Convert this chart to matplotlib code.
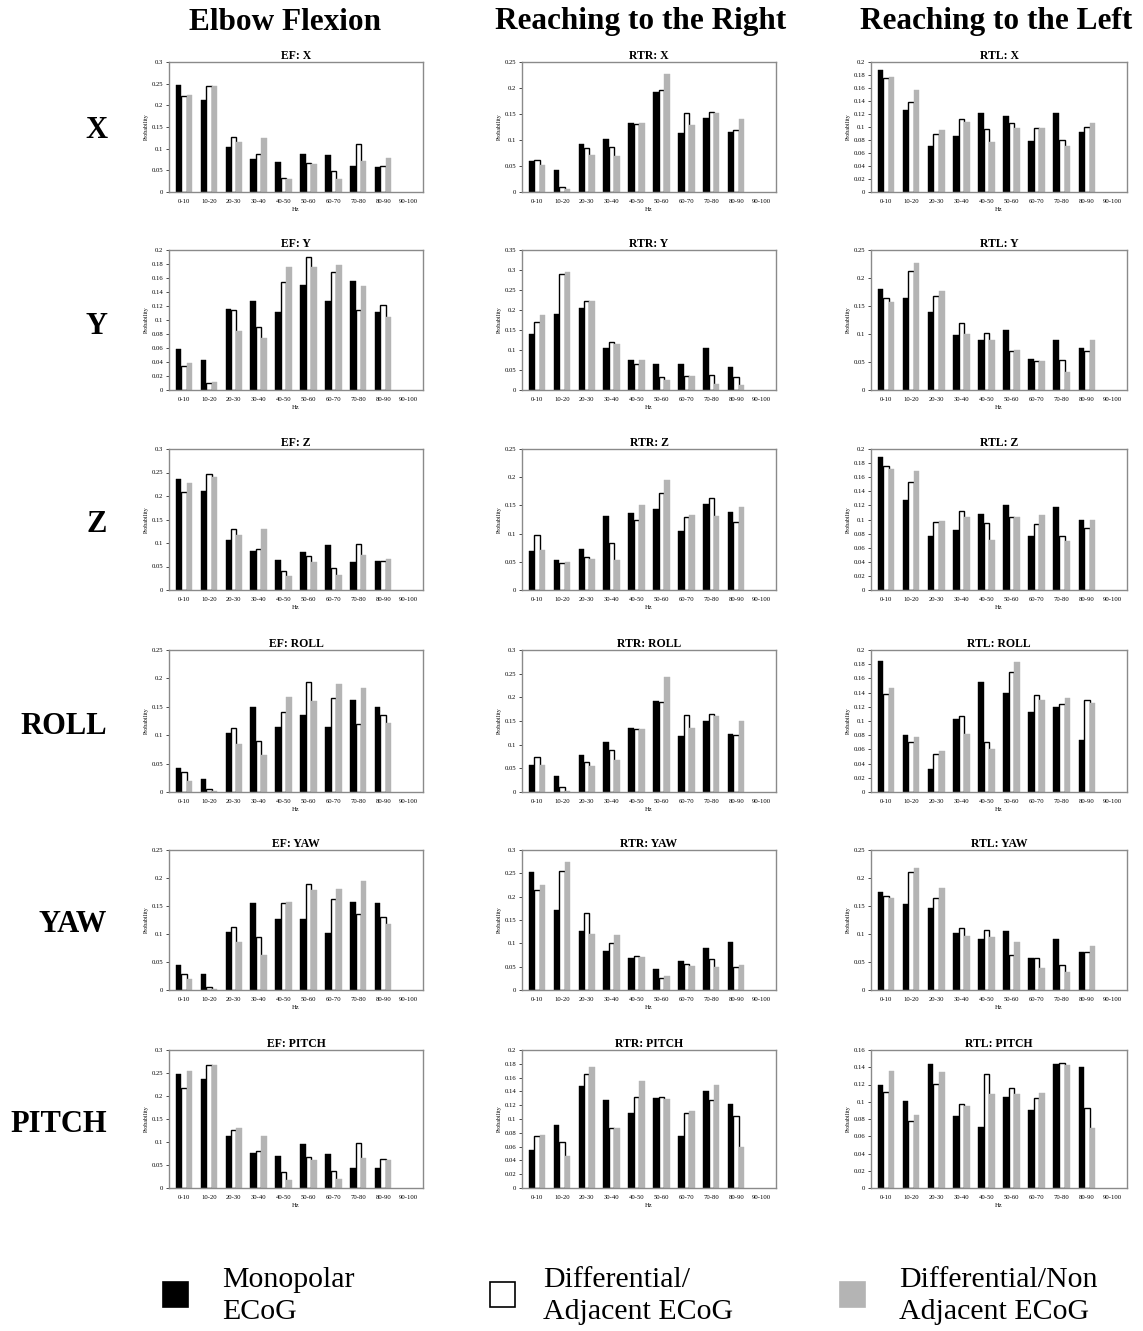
import numpy as np
import matplotlib.pyplot as plt
import matplotlib as mpl
from matplotlib.patches import Rectangle
from matplotlib.ticker import MultipleLocator, FormatStrFormatter

mpl.rcParams['font.family'] = ['Liberation Serif', 'DejaVu Serif']

W, H = 1143, 1331

bins = ['0-10', '10-20', '20-30', '30-40', '40-50', '50-60', '60-70', '70-80', '80-90', '90-100']

# each panel: (monopolar, differential adjacent, differential non adjacent); 90-100 is empty
ef_x = ([0.248, 0.212, 0.104, 0.077, 0.069, 0.088, 0.086, 0.060, 0.057, 0],
        [0.222, 0.245, 0.126, 0.087, 0.033, 0.066, 0.048, 0.110, 0.060, 0],
        [0.224, 0.245, 0.116, 0.125, 0.030, 0.064, 0.030, 0.072, 0.079, 0])
ef_y = ([0.058, 0.043, 0.116, 0.127, 0.111, 0.150, 0.127, 0.156, 0.112, 0],
        [0.035, 0.010, 0.115, 0.090, 0.154, 0.190, 0.168, 0.115, 0.121, 0],
        [0.038, 0.012, 0.085, 0.074, 0.176, 0.176, 0.178, 0.149, 0.105, 0])
ef_z = ([0.237, 0.210, 0.107, 0.084, 0.063, 0.080, 0.095, 0.060, 0.062, 0],
        [0.208, 0.247, 0.130, 0.087, 0.040, 0.072, 0.047, 0.098, 0.062, 0],
        [0.228, 0.240, 0.118, 0.130, 0.030, 0.060, 0.032, 0.075, 0.066, 0])
ef_roll = ([0.042, 0.023, 0.103, 0.150, 0.115, 0.135, 0.115, 0.162, 0.150, 0],
           [0.035, 0.005, 0.112, 0.090, 0.140, 0.193, 0.165, 0.120, 0.135, 0],
           [0.020, 0.002, 0.085, 0.066, 0.168, 0.160, 0.191, 0.183, 0.122, 0])
ef_yaw = ([0.045, 0.028, 0.103, 0.155, 0.127, 0.127, 0.101, 0.157, 0.155, 0],
          [0.028, 0.006, 0.112, 0.095, 0.155, 0.190, 0.163, 0.135, 0.130, 0],
          [0.020, 0.002, 0.085, 0.062, 0.157, 0.178, 0.181, 0.195, 0.117, 0])
ef_pitch = ([0.248, 0.238, 0.113, 0.077, 0.070, 0.095, 0.075, 0.043, 0.043, 0],
            [0.218, 0.268, 0.127, 0.080, 0.035, 0.068, 0.037, 0.097, 0.062, 0],
            [0.255, 0.268, 0.131, 0.113, 0.018, 0.060, 0.020, 0.065, 0.060, 0])

rtr_x = ([0.059, 0.042, 0.093, 0.101, 0.133, 0.193, 0.113, 0.143, 0.115, 0],
         [0.062, 0.010, 0.085, 0.086, 0.131, 0.196, 0.151, 0.154, 0.119, 0],
         [0.052, 0.005, 0.072, 0.070, 0.133, 0.226, 0.128, 0.152, 0.140, 0])
rtr_y = ([0.140, 0.190, 0.204, 0.104, 0.076, 0.066, 0.066, 0.104, 0.058, 0],
         [0.170, 0.290, 0.222, 0.120, 0.066, 0.032, 0.034, 0.038, 0.032, 0],
         [0.188, 0.296, 0.222, 0.116, 0.076, 0.024, 0.036, 0.016, 0.012, 0])
rtr_z = ([0.069, 0.053, 0.072, 0.132, 0.137, 0.143, 0.104, 0.152, 0.139, 0],
         [0.098, 0.048, 0.058, 0.084, 0.124, 0.172, 0.130, 0.164, 0.121, 0],
         [0.071, 0.050, 0.055, 0.053, 0.151, 0.195, 0.133, 0.132, 0.148, 0])
rtr_roll = ([0.058, 0.034, 0.078, 0.106, 0.136, 0.192, 0.118, 0.151, 0.122, 0],
            [0.073, 0.010, 0.063, 0.088, 0.134, 0.190, 0.163, 0.165, 0.121, 0],
            [0.056, 0.003, 0.054, 0.068, 0.133, 0.243, 0.135, 0.160, 0.150, 0])
rtr_yaw = ([0.253, 0.172, 0.127, 0.084, 0.069, 0.044, 0.063, 0.090, 0.103, 0],
           [0.214, 0.256, 0.164, 0.101, 0.072, 0.026, 0.056, 0.066, 0.050, 0],
           [0.226, 0.275, 0.120, 0.117, 0.070, 0.030, 0.052, 0.049, 0.054, 0])
rtr_pitch = ([0.055, 0.091, 0.148, 0.128, 0.109, 0.131, 0.075, 0.140, 0.122, 0],
             [0.075, 0.067, 0.165, 0.087, 0.132, 0.132, 0.109, 0.127, 0.104, 0],
             [0.077, 0.047, 0.175, 0.087, 0.155, 0.129, 0.111, 0.149, 0.060, 0])

rtl_x = ([0.188, 0.126, 0.071, 0.086, 0.122, 0.117, 0.079, 0.121, 0.092, 0],
         [0.176, 0.138, 0.090, 0.112, 0.097, 0.106, 0.099, 0.080, 0.100, 0],
         [0.177, 0.157, 0.095, 0.107, 0.077, 0.099, 0.099, 0.071, 0.106, 0])
rtl_y = ([0.180, 0.164, 0.140, 0.098, 0.090, 0.108, 0.056, 0.090, 0.075, 0],
         [0.165, 0.212, 0.167, 0.119, 0.102, 0.070, 0.052, 0.054, 0.070, 0],
         [0.158, 0.227, 0.177, 0.100, 0.089, 0.072, 0.052, 0.033, 0.090, 0])
rtl_z = ([0.188, 0.127, 0.076, 0.085, 0.108, 0.120, 0.077, 0.118, 0.100, 0],
         [0.176, 0.153, 0.097, 0.112, 0.095, 0.103, 0.093, 0.076, 0.088, 0],
         [0.171, 0.169, 0.098, 0.104, 0.071, 0.103, 0.107, 0.069, 0.099, 0])
rtl_roll = ([0.185, 0.080, 0.033, 0.103, 0.155, 0.140, 0.112, 0.120, 0.073, 0],
            [0.138, 0.070, 0.053, 0.107, 0.070, 0.169, 0.136, 0.124, 0.130, 0],
            [0.146, 0.077, 0.058, 0.082, 0.060, 0.183, 0.129, 0.133, 0.125, 0])
rtl_yaw = ([0.175, 0.153, 0.147, 0.102, 0.091, 0.105, 0.058, 0.091, 0.067, 0],
           [0.167, 0.210, 0.165, 0.110, 0.107, 0.063, 0.057, 0.045, 0.068, 0],
           [0.165, 0.218, 0.183, 0.096, 0.095, 0.085, 0.040, 0.033, 0.078, 0])
rtl_pitch = ([0.120, 0.101, 0.144, 0.084, 0.071, 0.105, 0.090, 0.144, 0.140, 0],
             [0.111, 0.078, 0.121, 0.097, 0.132, 0.116, 0.104, 0.145, 0.093, 0],
             [0.136, 0.085, 0.134, 0.095, 0.109, 0.109, 0.110, 0.143, 0.069, 0])

col_titles = ['Elbow Flexion', 'Reaching to the Right', 'Reaching to the Left']
col_prefix = ['EF', 'RTR', 'RTL']
row_names = ['X', 'Y', 'Z', 'ROLL', 'YAW', 'PITCH']

panels = [[ef_x, rtr_x, rtl_x],
          [ef_y, rtr_y, rtl_y],
          [ef_z, rtr_z, rtl_z],
          [ef_roll, rtr_roll, rtl_roll],
          [ef_yaw, rtr_yaw, rtl_yaw],
          [ef_pitch, rtr_pitch, rtl_pitch]]
# (ymax, step) per panel
yscale = [[(0.3, 0.05), (0.25, 0.05), (0.2, 0.02)],
          [(0.2, 0.02), (0.35, 0.05), (0.25, 0.05)],
          [(0.3, 0.05), (0.25, 0.05), (0.2, 0.02)],
          [(0.25, 0.05), (0.3, 0.05), (0.2, 0.02)],
          [(0.25, 0.05), (0.3, 0.05), (0.25, 0.05)],
          [(0.3, 0.05), (0.2, 0.02), (0.16, 0.02)]]

legend_labels = ['Monopolar\nECoG', 'Differential/\nAdjacent ECoG', 'Differential/Non\nAdjacent ECoG']
bar_colors = ['black', 'white', '#b4b4b4']
edge_colors = ['black', 'black', '#b4b4b4']

# pixel layout
col_left = [169, 522, 871]
col_width = [254, 254, 256]
row_top = [62, 250, 449, 650, 850, 1050]
row_bot = [192, 390, 590, 792, 990, 1188]


def px_rect(x0, y0, x1, y1):
    return [x0 / W, 1 - y1 / H, (x1 - x0) / W, (y1 - y0) / H]


fig = plt.figure(figsize=(W / 100, H / 100), dpi=100)

x = np.arange(len(bins))
bw = 0.22
for r in range(6):
    for c in range(3):
        ax = fig.add_axes(px_rect(col_left[c], row_top[r], col_left[c] + col_width[c], row_bot[r]))
        series = panels[r][c]
        for k in range(3):
            vals = np.array(series[k])
            keep = vals > 0
            ax.bar(x[keep] + (k - 1) * bw, vals[keep], width=bw, color=bar_colors[k],
                   edgecolor=edge_colors[k], linewidth=1.0 if k == 1 else 0.3)
        ymax, step = yscale[r][c]
        ax.set_ylim(0, ymax)
        ax.set_xlim(-0.6, 9.6)
        ax.yaxis.set_major_locator(MultipleLocator(step))
        ax.yaxis.set_major_formatter(FormatStrFormatter('%g'))
        ax.set_xticks(x)
        ax.set_xticklabels(bins)
        ax.tick_params(axis='x', length=0, labelsize=4.8, pad=5)
        ax.tick_params(axis='y', length=2, width=0.5, labelsize=4.8, pad=2)
        ax.set_ylabel('Probability', fontsize=4.2, labelpad=2)
        ax.set_xlabel('Hz', fontsize=4.8, labelpad=2)
        for sp in ax.spines.values():
            sp.set_color('#8a8a8a')
            sp.set_linewidth(1.0)
        ax.set_title(col_prefix[c] + ': ' + row_names[r], fontsize=8.5, fontweight='bold', pad=2)

# column headers
col_centers = [285, 641, 996]
for c in range(3):
    fig.text(col_centers[c] / W, 1 - 22 / H, col_titles[c], fontsize=22.5, fontweight='bold',
             ha='center', va='center')

# row labels
row_centers = [130, 326, 525, 726, 925, 1125]
for r in range(6):
    fig.text(107 / W, 1 - row_centers[r] / H, row_names[r], fontsize=22, fontweight='bold',
             ha='right', va='center')

# legend drawn in pixel space
lax = fig.add_axes([0, 0, 1, 1], facecolor='none')
lax.set_xlim(0, W)
lax.set_ylim(H, 0)
lax.axis('off')
sq_x = [163, 490, 840]
txt_x = [222, 543, 899]
for k in range(3):
    lax.add_patch(Rectangle((sq_x[k], 1282), 25, 25, facecolor=bar_colors[k],
                            edgecolor='black' if k < 2 else '#b4b4b4', linewidth=1.2))
    lax.text(txt_x[k], 1296, legend_labels[k], fontsize=21.5, ha='left', va='center',
             linespacing=1.32)

plt.savefig('out.png', dpi=100)
